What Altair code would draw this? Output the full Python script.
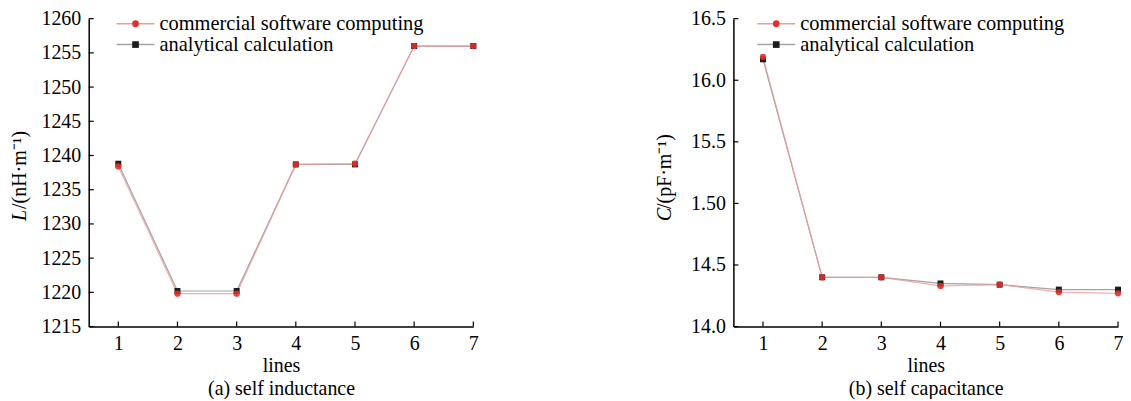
import altair as alt
import pandas as pd

FONT = "Liberation Serif"

lines = [1, 2, 3, 4, 5, 6, 7]
L_commercial = [1238.4, 1219.8, 1219.8, 1238.7, 1238.8, 1256.0, 1256.0]
L_analytical = [1238.8, 1220.2, 1220.2, 1238.7, 1238.7, 1256.0, 1256.0]
C_commercial = [16.19, 14.40, 14.40, 14.33, 14.34, 14.28, 14.27]
C_analytical = [16.17, 14.40, 14.40, 14.35, 14.34, 14.30, 14.30]

L_ticks = [1215, 1220, 1225, 1230, 1235, 1240, 1245, 1250, 1255, 1260]
C_ticks = [14.0, 14.5, 15.0, 15.5, 16.0, 16.5]

series_names = ["commercial software computing", "analytical calculation"]

W, H = 386, 309

COMM_LINE = "#ee9a9a"
COMM_MARK = "#e0302e"
ANAL_LINE = "#a3a3a3"
ANAL_MARK = "#1c1c1c"


def one_row():
    return pd.DataFrame({"k": [0]})


def panel(comm, anal, ydomain, yticks, label_expr, caption, t_italic, t_rest,
          t_shift, leg):
    df = pd.DataFrame({
        "line": lines * 2,
        "value": anal + comm,
        "series": [series_names[1]] * 7 + [series_names[0]] * 7,
    })
    xscale = alt.Scale(domain=[0.5, 7], nice=False, zero=False)
    yscale = alt.Scale(domain=ydomain, nice=False, zero=False)
    xaxis = alt.Axis(values=lines, ticks=False, labelPadding=7, format="d",
                     title=["lines", caption], titlePadding=2,
                     titleLineHeight=23, labelFlush=False, labelOverlap=False)
    yaxis = alt.Axis(values=yticks, ticks=False, labelPadding=8, title=None,
                     labelExpr=label_expr, labelOverlap=False)

    X = alt.X("line:Q", scale=xscale, axis=xaxis)
    Y = alt.Y("value:Q", scale=yscale, axis=yaxis)

    anal_df = df[df.series == series_names[1]]
    comm_df = df[df.series == series_names[0]]

    l_anal = alt.Chart(anal_df).mark_line(color=ANAL_LINE, strokeWidth=1.2).encode(x=X, y=Y)
    l_comm = alt.Chart(comm_df).mark_line(color=COMM_LINE, strokeWidth=1.2, opacity=0.8).encode(x=X, y=Y)
    p_anal = alt.Chart(anal_df).mark_point(shape="square", filled=True, size=36,
                                           color=ANAL_MARK, opacity=1).encode(x=X, y=Y)
    p_comm = alt.Chart(comm_df).mark_point(shape="circle", filled=True, size=40,
                                           color=COMM_MARK, opacity=0.9).encode(x=X, y=Y)

    xt = alt.Chart(pd.DataFrame({"line": lines})).mark_rule(color="black", strokeWidth=1.2).encode(
        x=X, y=alt.value(H), y2=alt.value(H - 5))
    yt = alt.Chart(pd.DataFrame({"value": yticks})).mark_rule(color="black", strokeWidth=1.2).encode(
        y=Y, x=alt.value(0), x2=alt.value(5))

    lx0, lx1, mx, tx = leg
    legend_layers = []
    rows = [(5, COMM_LINE, COMM_MARK, "circle", series_names[0]),
            (26, ANAL_LINE, ANAL_MARK, "square", series_names[1])]
    for ry, lc, mc, shp, name in rows:
        legend_layers.append(alt.Chart(one_row()).mark_rule(color=lc, strokeWidth=1.5).encode(
            x=alt.value(lx0), x2=alt.value(lx1), y=alt.value(ry)))
        legend_layers.append(alt.Chart(one_row()).mark_point(
            shape=shp, filled=True, size=45, color=mc, opacity=1).encode(
            x=alt.value(mx), y=alt.value(ry)))
        legend_layers.append(alt.Chart(one_row()).mark_text(
            align="left", baseline="middle", font=FONT, fontSize=20.5, color="black").encode(
            x=alt.value(tx), y=alt.value(ry), text=alt.value(name)))

    ty = 203
    title_layers = [
        alt.Chart(one_row()).mark_text(
            align="left", baseline="middle", angle=270, font=FONT, fontSize=20,
            fontStyle="italic", color="black").encode(
            x=alt.value(t_shift), y=alt.value(ty), text=alt.value(t_italic)),
        alt.Chart(one_row()).mark_text(
            align="left", baseline="middle", angle=270, font=FONT, fontSize=20,
            color="black").encode(
            x=alt.value(t_shift), y=alt.value(ty - 12), text=alt.value(t_rest)),
    ]

    return alt.layer(l_anal, l_comm, p_anal, p_comm, xt, yt,
                     *legend_layers, *title_layers).properties(width=W, height=H)


left = panel(L_commercial, L_analytical, [1215, 1260], L_ticks,
             "format(datum.value, 'd')", "(a) self inductance",
             "L", "/(nH·m⁻¹)", -69, (28, 66, 47, 71))
right = panel(C_commercial, C_analytical, [14.0, 16.5], C_ticks,
              "datum.value == 15 ? '1.50' : format(datum.value, '.1f')",
              "(b) self capacitance",
              "C", "/(pF·m⁻¹)", -69, (24, 62, 43, 67))

chart = alt.hconcat(left, right, spacing=177).properties(
    padding={"left": 2, "top": 0, "right": 0, "bottom": 0}, background="white"
).configure_view(
    stroke=None
).configure_axis(
    grid=False, domainColor="black", domainWidth=1.5,
    labelColor="black", labelFont=FONT, labelFontSize=20,
    titleColor="black", titleFont=FONT, titleFontSize=20, titleFontWeight="normal",
)

chart.save("out.html", embed_options={"renderer": "svg", "actions": False})
